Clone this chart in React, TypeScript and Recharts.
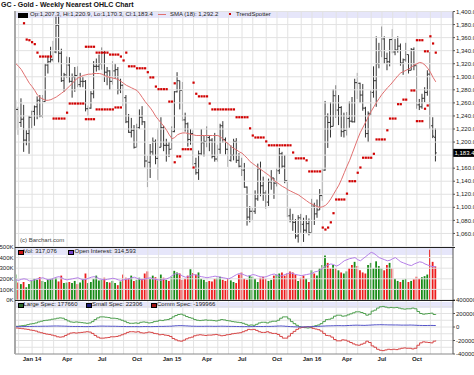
import React from "react";
import { ComposedChart, Bar, Line, XAxis, YAxis, ReferenceLine, Cell } from "recharts";

const _ = null;

// weekly bars, week ending Nov 29 2013 (index 0) .. Nov 25 2016 (index 156)
const open = [
  1244, 1250, 1230, 1235, 1203, 1213, 1238, 1247, 1254, 1264,
  1240, 1262, 1318, 1323, 1326, 1338, 1379, 1336, 1294, 1303,
  1318, 1293, 1300, 1302, 1288, 1293, 1293, 1251, 1252, 1274,
  1316, 1316, 1320, 1337, 1307, 1309, 1293, 1309, 1311, 1280,
  1287, 1268, 1231, 1215, 1218, 1192, 1222, 1238, 1231, 1171,
  1169, 1185, 1201, 1175, 1192, 1222, 1195, 1195, 1189, 1216,
  1277, 1294, 1279, 1234, 1228, 1204, 1213, 1167, 1153, 1182,
  1199, 1201, 1207, 1203, 1178, 1174, 1189, 1225, 1204, 1189,
  1172, 1180, 1201, 1172, 1163, 1157, 1131, 1085, 1094, 1094,
  1113, 1159, 1133, 1122, 1108, 1139, 1145, 1137, 1156, 1182,
  1163, 1141, 1087, 1080, 1077, 1056, 1084, 1074, 1065, 1075,
  1061, 1102, 1090, 1096, 1118, 1157, 1239, 1230, 1224, 1271,
  1249, 1253, 1216, 1218, 1236, 1232, 1231, 1291, 1290, 1272,
  1252, 1213, 1244, 1276, 1294, 1320, 1340, 1358, 1328, 1323,
  1357, 1338, 1341, 1347, 1321, 1326, 1334, 1310, 1342, 1317,
  1257, 1254, 1267, 1276, 1304, 1225, 1207.3,
];
const high = [
  1264, 1254, 1267, 1257, 1218, 1240, 1248, 1256, 1270, 1272,
  1272, 1320, 1332, 1346, 1355, 1392, 1392, 1343, 1306, 1331,
  1330, 1305, 1315, 1316, 1306, 1300, 1295, 1256, 1278, 1324,
  1328, 1334, 1345, 1340, 1315, 1310, 1324, 1320, 1315, 1297,
  1289, 1272, 1243, 1237, 1226, 1228, 1250, 1255, 1232, 1179,
  1197, 1207, 1204, 1221, 1238, 1225, 1205, 1200, 1224, 1278,
  1307, 1294, 1292, 1245, 1230, 1220, 1218, 1176, 1187, 1220,
  1210, 1224, 1210, 1206, 1214, 1196, 1228, 1232, 1207, 1200,
  1195, 1205, 1206, 1183, 1176, 1168, 1132, 1102, 1099, 1126,
  1167, 1170, 1147, 1126, 1144, 1157, 1145, 1160, 1191, 1185,
  1180, 1142, 1098, 1090, 1082, 1088, 1090, 1084, 1088, 1083,
  1113, 1107, 1112, 1128, 1160, 1263, 1244, 1261, 1281, 1287,
  1272, 1255, 1245, 1246, 1262, 1269, 1297, 1306, 1291, 1289,
  1254, 1247, 1279, 1316, 1362, 1352, 1377, 1362, 1337, 1358,
  1373, 1358, 1362, 1351, 1328, 1352, 1334, 1344, 1345, 1319,
  1266, 1274, 1284, 1310, 1338, 1238, 1220.9,
];
const low = [
  1221, 1211, 1223, 1185, 1195, 1182, 1221, 1225, 1235, 1238,
  1237, 1262, 1305, 1322, 1323, 1336, 1322, 1292, 1277, 1298,
  1291, 1268, 1277, 1284, 1284, 1284, 1247, 1240, 1251, 1267,
  1308, 1310, 1311, 1292, 1287, 1280, 1288, 1297, 1273, 1275,
  1255, 1229, 1214, 1207, 1190, 1192, 1220, 1226, 1161, 1131,
  1145, 1180, 1166, 1142, 1192, 1186, 1170, 1177, 1189, 1215,
  1276, 1250, 1232, 1216, 1193, 1196, 1164, 1150, 1142, 1180,
  1178, 1192, 1186, 1175, 1170, 1170, 1182, 1199, 1181, 1162,
  1170, 1172, 1168, 1161, 1148, 1130, 1072, 1077, 1080, 1090,
  1110, 1117, 1110, 1098, 1102, 1127, 1113, 1132, 1151, 1160,
  1137, 1085, 1077, 1064, 1052, 1046, 1061, 1047, 1061, 1057,
  1061, 1073, 1084, 1096, 1110, 1156, 1191, 1207, 1224, 1237,
  1226, 1208, 1207, 1210, 1222, 1230, 1230, 1266, 1260, 1248,
  1207, 1200, 1241, 1268, 1254, 1313, 1330, 1320, 1310, 1316,
  1336, 1333, 1337, 1317, 1303, 1323, 1305, 1310, 1310, 1251,
  1249, 1251, 1261, 1271, 1220, 1206, 1170.3,
];
const close = [
  1250, 1230, 1235, 1203, 1213, 1238, 1247, 1254, 1264, 1240,
  1262, 1318, 1323, 1326, 1338, 1379, 1336, 1294, 1303, 1318,
  1293, 1300, 1302, 1288, 1293, 1293, 1251, 1252, 1274, 1316,
  1316, 1320, 1337, 1307, 1309, 1293, 1309, 1311, 1280, 1287,
  1268, 1231, 1215, 1218, 1192, 1222, 1238, 1231, 1171, 1169,
  1185, 1201, 1175, 1192, 1222, 1195, 1195, 1189, 1216, 1277,
  1294, 1279, 1234, 1228, 1204, 1213, 1167, 1153, 1182, 1199,
  1201, 1207, 1203, 1178, 1174, 1189, 1225, 1204, 1189, 1172,
  1180, 1201, 1172, 1163, 1157, 1131, 1085, 1094, 1094, 1113,
  1159, 1133, 1122, 1108, 1139, 1145, 1137, 1156, 1182, 1163,
  1141, 1087, 1080, 1077, 1056, 1084, 1074, 1065, 1075, 1061,
  1102, 1090, 1096, 1118, 1157, 1239, 1230, 1224, 1271, 1249,
  1253, 1216, 1218, 1236, 1232, 1231, 1291, 1290, 1272, 1252,
  1213, 1244, 1276, 1294, 1320, 1340, 1358, 1328, 1323, 1357,
  1338, 1341, 1347, 1321, 1326, 1334, 1310, 1342, 1317, 1257,
  1254, 1267, 1276, 1304, 1225, 1209, 1183.4,
];
const sma18 = [
  1320, 1316, 1311, 1304, 1297, 1290, 1285, 1279, 1272, 1268,
  1266, 1264, 1264, 1265, 1267, 1269, 1272, 1275, 1278, 1282,
  1286, 1290, 1295, 1298, 1300, 1302, 1303, 1304, 1304, 1305,
  1305, 1305, 1304, 1302, 1300, 1299, 1298, 1297, 1296, 1293,
  1290, 1287, 1285, 1283, 1281, 1279, 1274, 1268, 1262, 1257,
  1252, 1246, 1239, 1234, 1229, 1224, 1218, 1211, 1205, 1207,
  1211, 1213, 1214, 1214, 1213, 1212, 1211, 1210, 1210, 1210,
  1210, 1210, 1210, 1210, 1210, 1210, 1208, 1204, 1200, 1197,
  1193, 1190, 1188, 1185, 1183, 1179, 1175, 1170, 1167, 1164,
  1161, 1158, 1155, 1152, 1149, 1145, 1141, 1138, 1135, 1132,
  1130, 1127, 1125, 1123, 1121, 1119, 1116, 1113, 1110, 1107,
  1105, 1103, 1101, 1100, 1101, 1103, 1107, 1113, 1120, 1127,
  1134, 1143, 1153, 1163, 1172, 1183, 1194, 1205, 1215, 1223,
  1231, 1239, 1247, 1254, 1261, 1267, 1273, 1278, 1283, 1287,
  1292, 1297, 1302, 1306, 1308, 1310, 1312, 1315, 1318, 1320,
  1322, 1321, 1318, 1313, 1307, 1299, 1292.2,
];
const trendAbove = [
  _, _, _, 1382, 1357, 1356, 1353, 1350, 1337, 1331,
  1331, 1331, 1331, 1331, _, _, _, _, _, _,
  _, _, _, _, _, _, 1346, 1346, 1346, 1346,
  1337, 1337, 1337, 1337, 1337, 1334, 1334, 1334, 1334, 1331,
  1325, 1337, 1316, 1316, 1316, 1313, 1313, 1313, 1313, 1307,
  1299, 1299, 1285, 1281, 1281, 1281, 1281, 1262, 1262, 1290,
  _, _, _, _, _, _, 1291, 1274, 1270, 1270,
  1270, 1270, 1259, 1250, 1250, 1250, 1250, 1250, 1250, 1250,
  1250, 1250, 1238, 1238, 1238, 1238, 1238, 1221, 1210, 1207,
  1207, 1207, 1207, 1201, 1195, 1195, 1195, 1195, 1195, 1195,
  1195, 1195, 1195, 1184, 1175, 1175, 1175, 1175, 1172, 1155,
  1155, 1155, 1155, 1155, _, _, _, _, _, _,
  _, _, _, _, _, _, _, _, _, _,
  _, _, _, _, _, _, _, _, _, _,
  _, _, _, _, _, _, _, _, _, 1356,
  1356, 1356, 1339, 1339, 1362, 1351, 1337,
];
const trendBelow = [
  _, _, _, _, _, _, _, _, _, _,
  _, _, _, _, 1236, 1236, 1236, 1236, 1236, 1245,
  1259, 1259, 1259, 1259, 1259, 1259, 1235, 1235, 1235, 1235,
  1250, 1250, 1250, 1250, 1250, 1250, 1250, 1253, 1253, 1253,
  _, _, _, _, _, _, _, _, _, _,
  _, _, _, _, _, _, _, _, _, 1169,
  1178, 1178, 1189, 1189, 1189, 1189, 1161, _, _, _,
  _, _, _, _, _, _, _, _, _, _,
  _, _, _, _, _, _, _, _, _, _,
  _, _, _, _, _, _, _, _, _, _,
  _, _, _, _, _, _, _, _, _, _,
  _, _, _, _, 1069, 1066, 1069, 1077, 1091, 1112,
  1112, 1112, 1112, 1121, 1140, 1140, 1140, 1153, 1161, 1176,
  1176, 1176, 1176, 1182, 1204, 1204, 1204, 1204, 1218, 1236,
  1236, 1236, 1258, 1258, 1265, 1265, _, 1279, 1279, 1232,
  1232, 1232, 1251, 1256, _, _, _,
];
// thousands of contracts
const volumeK = [
  240, 165, 150, 170, 120, 150, 185, 200, 190, 215,
  180, 170, 195, 200, 205, 210, 175, 230, 160, 165,
  170, 160, 180, 150, 165, 200, 250, 160, 170, 200,
  230, 185, 190, 210, 170, 165, 180, 160, 140, 175,
  240, 210, 205, 230, 180, 190, 210, 200, 250, 270,
  200, 230, 215, 185, 240, 210, 190, 180, 220, 275,
  260, 250, 190, 200, 230, 290, 255, 240, 260, 200,
  190, 170, 180, 175, 200, 210, 220, 190, 180, 200,
  185, 170, 160, 240, 260, 200, 190, 230, 220, 200,
  170, 210, 220, 200, 180, 190, 230, 240, 250, 260,
  230, 250, 270, 260, 240, 180, 210, 230, 200, 170,
  280, 250, 230, 300, 330, 420, 350, 300, 330, 300,
  280, 260, 250, 270, 300, 330, 360, 320, 280, 260,
  250, 330, 350, 300, 365, 320, 300, 280, 330, 350,
  300, 200, 180, 170, 190, 200, 170, 180, 195, 220,
  200, 215, 225, 240, 475, 360, 317.076,
];
const openInterestK = [
  190, 185, 195, 200, 195, 180, 185, 190, 200, 205,
  210, 200, 190, 195, 205, 215, 220, 210, 195, 190,
  195, 200, 205, 210, 200, 190, 195, 205, 215, 220,
  215, 200, 195, 190, 195, 200, 205, 200, 190, 185,
  190, 195, 200, 210, 215, 205, 195, 190, 200, 205,
  210, 200, 195, 190, 185, 195, 200, 210, 230, 245,
  250, 240, 225, 215, 220, 230, 240, 235, 225, 220,
  215, 210, 215, 220, 225, 220, 215, 210, 205, 200,
  210, 225, 240, 250, 245, 235, 225, 230, 240, 235,
  225, 220, 215, 220, 230, 240, 245, 235, 225, 230,
  240, 250, 255, 250, 240, 235, 230, 235, 240, 245,
  250, 265, 270, 285, 300, 320, 330, 340, 335, 320,
  330, 350, 370, 380, 390, 395, 400, 380, 370, 390,
  410, 430, 450, 440, 420, 400, 390, 380, 370, 375,
  390, 400, 380, 360, 350, 340, 330, 325, 340, 350,
  360, 355, 340, 330, 320, 315, 314.593,
];
const largeSpecK = [
  10, 15, 20, 25, 35, 45, 50, 60, 75, 85,
  95, 100, 105, 115, 120, 130, 135, 130, 110, 90,
  75, 70, 75, 70, 65, 60, 55, 60, 80, 110,
  135, 150, 150, 145, 140, 130, 130, 125, 115, 100,
  85, 65, 55, 55, 60, 55, 70, 75, 70, 60,
  65, 80, 85, 100, 95, 105, 110, 125, 150, 170,
  185, 190, 175, 155, 140, 130, 110, 100, 95, 100,
  105, 100, 100, 95, 90, 100, 110, 105, 95, 90,
  80, 75, 70, 65, 55, 40, 25, 30, 25, 40,
  60, 70, 70, 60, 75, 85, 85, 100, 130, 150,
  150, 120, 80, 50, 25, 5, -5, -10, -15, -10,
  10, 20, 30, 50, 80, 110, 115, 130, 160, 175,
  175, 160, 165, 180, 195, 210, 225, 225, 215, 200,
  175, 190, 235, 250, 280, 300, 305, 295, 285, 290,
  285, 290, 280, 270, 265, 270, 270, 280, 270, 230,
  200, 190, 195, 200, 205, 185, 177.66,
];
const smallSpecK = [
  5, 5, 6, 7, 8, 8, 9, 10, 10, 11,
  12, 12, 13, 14, 15, 15, 14, 13, 12, 10,
  9, 8, 8, 7, 7, 6, 6, 7, 8, 10,
  12, 13, 13, 12, 12, 11, 11, 10, 9, 8,
  7, 6, 6, 6, 6, 5, 6, 7, 7, 6,
  6, 7, 8, 9, 9, 10, 11, 12, 15, 18,
  20, 20, 18, 16, 14, 12, 11, 10, 10, 10,
  11, 11, 11, 10, 10, 11, 12, 11, 10, 9,
  9, 8, 7, 6, 5, 6, 5, 6, 7, 8,
  8, 7, 8, 9, 9, 10, 12, 14, 15, 13,
  10, 7, 5, 3, 2, 1, 1, 2, 3, 4,
  6, 8, 10, 12, 14, 16, 17, 18, 19, 20,
  20, 19, 20, 22, 24, 26, 27, 26, 25, 24,
  26, 28, 30, 32, 33, 34, 33, 32, 31, 31,
  30, 30, 29, 28, 28, 28, 29, 28, 26, 24,
  23, 22, 22, 23, 23, 22, 22.306,
];
const commSpecK = [
  -15, -20, -25, -30, -35, -45, -50, -60, -75, -85,
  -95, -105, -110, -120, -130, -145, -150, -145, -125, -105,
  -90, -85, -90, -85, -80, -75, -70, -75, -95, -125,
  -150, -165, -165, -160, -155, -145, -145, -140, -130, -115,
  -100, -80, -70, -70, -75, -70, -85, -90, -85, -75,
  -80, -95, -100, -115, -110, -120, -125, -140, -170, -190,
  -205, -210, -195, -175, -160, -150, -130, -120, -115, -120,
  -125, -120, -120, -115, -110, -120, -130, -125, -115, -110,
  -100, -95, -90, -85, -70, -55, -35, -40, -35, -50,
  -70, -80, -80, -70, -85, -95, -95, -110, -140, -165,
  -165, -135, -95, -65, -35, -15, -5, 0, 5, 0,
  -20, -30, -40, -60, -95, -125, -130, -150, -185, -205,
  -205, -190, -195, -210, -230, -250, -265, -270, -255, -240,
  -210, -230, -280, -300, -330, -345, -350, -340, -330, -335,
  -330, -335, -325, -315, -310, -315, -315, -325, -315, -270,
  -235, -220, -225, -230, -235, -210, -199.966,
];

const quarterTicks = [6, 19, 32, 45, 58, 71, 84, 97, 110, 123, 136, 149];
const quarterLabels = ["Jan 14", "Apr", "Jul", "Oct", "Jan 15", "Apr", "Jul", "Oct", "Jan 16", "Apr", "Jul", "Oct"];
const monthTicks = [1, 6, 10, 14, 19, 23, 27, 32, 36, 40, 45, 49, 53, 58, 62, 66, 71, 75, 79, 84, 88, 93, 97, 101, 106, 110, 114, 119, 123, 127, 132, 136, 140, 145, 149, 154, 158];
const priceGrid = [1060, 1080, 1100, 1120, 1140, 1160, 1180, 1200, 1220, 1240, 1260, 1280, 1300, 1320, 1340, 1360, 1380, 1400];
// 1,180.0 sits under the last-price box, so it carries no label
const priceLabels = [1060, 1080, 1100, 1120, 1140, 1160, 1200, 1220, 1240, 1260, 1280, 1300, 1320, 1340, 1360, 1380, 1400];
const volTicks = [0, 100000, 200000, 300000, 400000, 500000];
const volRightTicks = [200000, 300000, 400000, 500000, 600000, 700000];
const cotTicks = [-400000, -200000, 0, 200000, 400000];

const FONT = "'Liberation Sans', Arial, sans-serif";
const X_DOMAIN: [number, number] = [-0.35, 162.4];
const GRID = "#e2e2e2";

const priceRows = open.map((o, i) => ({
  i,
  range: [low[i], high[i]],
  o,
  h: high[i],
  l: low[i],
  c: close[i],
  sma: sma18[i],
  tsHi: trendAbove[i],
  tsLo: trendBelow[i],
}));
const volRows = open.map((o, i) => ({
  i,
  vol: volumeK[i] * 1000,
  oi: openInterestK[i] * 1000,
  up: close[i] >= o,
}));
const cotRows = open.map((_o, i) => ({
  i,
  large: largeSpecK[i] * 1000,
  small: smallSpecK[i] * 1000,
  comm: commSpecK[i] * 1000,
}));

const fmtPrice = (v: number) =>
  v.toLocaleString("en-US", { minimumFractionDigits: 1, maximumFractionDigits: 1 });

function OhlcBar(props: any) {
  const { x, y, width, height, payload } = props;
  if (x == null || payload == null) return null;
  const top = Math.min(y, y + height);
  const bot = Math.max(y, y + height);
  const span = payload.h - payload.l || 1;
  const at = (v: number) => top + ((payload.h - v) / span) * (bot - top);
  const cx = x + width / 2;
  return (
    <g stroke="#333" strokeWidth={1}>
      <line x1={cx} x2={cx} y1={top} y2={bot} />
      <line x1={cx - 1.4} x2={cx} y1={at(payload.o)} y2={at(payload.o)} />
      <line x1={cx} x2={cx + 1.4} y1={at(payload.c)} y2={at(payload.c)} />
    </g>
  );
}

const TrendDot = (props: any) => {
  const { cx, cy, value, index } = props;
  if (value == null || cy == null || Number.isNaN(cy)) return <g key={`t${index}`} />;
  return <rect key={`t${index}`} x={cx - 1.1} y={cy - 1.1} width={2.2} height={2.2} fill="#d00000" />;
};

const LastPrice = (props: any) => {
  const vb = props.viewBox;
  if (!vb) return null;
  const x = vb.x + vb.width;
  return (
    <g>
      <rect x={x} y={vb.y - 4} width={22} height={8} fill="#000" />
      <text x={x + 1.5} y={vb.y + 2.2} fontSize={6} fill="#fff" fontFamily={FONT}>
        {fmtPrice(close[close.length - 1])}
      </text>
    </g>
  );
};

const tickStyle = { fontSize: 6, fill: "#222", fontFamily: FONT };

function vGrid(axisId: string) {
  return monthTicks.map((m) => (
    <ReferenceLine key={`m${m}`} x={m} yAxisId={axisId} stroke={GRID} strokeWidth={1} ifOverflow="hidden" />
  ));
}

function PriceChart() {
  return (
    <ComposedChart width={474} height={247} data={priceRows} margin={{ top: 11.5, right: 0, bottom: 0.5, left: 15 }}>
      <XAxis dataKey="i" type="number" domain={X_DOMAIN} hide allowDataOverflow />
      <YAxis
        yAxisId="p"
        orientation="right"
        domain={[1040, 1400]}
        ticks={priceLabels}
        width={21}
        allowDataOverflow
        tick={tickStyle}
        tickFormatter={fmtPrice}
        tickSize={2}
        tickMargin={1}
        axisLine={{ stroke: "#555" }}
        tickLine={{ stroke: "#555" }}
        interval={0}
      />
      {vGrid("p")}
      {priceGrid.map((t) => (
        <ReferenceLine key={`h${t}`} y={t} yAxisId="p" stroke={GRID} strokeWidth={1} />
      ))}
      <Bar yAxisId="p" dataKey="range" shape={OhlcBar} barSize={2} isAnimationActive={false} />
      <Line yAxisId="p" dataKey="sma" stroke="#e07070" strokeWidth={1} dot={false} isAnimationActive={false} />
      <Line yAxisId="p" dataKey="tsHi" stroke="none" dot={TrendDot} activeDot={false} isAnimationActive={false} />
      <Line yAxisId="p" dataKey="tsLo" stroke="none" dot={TrendDot} activeDot={false} isAnimationActive={false} />
      <ReferenceLine yAxisId="p" y={close[close.length - 1]} stroke="none" label={<LastPrice />} />
    </ComposedChart>
  );
}

function VolumeChart() {
  const k = (v: number) => `${v / 1000}K`;
  return (
    <ComposedChart width={474} height={53} data={volRows} margin={{ top: 0, right: 0, bottom: 0, left: 0 }}>
      <XAxis dataKey="i" type="number" domain={X_DOMAIN} hide allowDataOverflow />
      <YAxis
        yAxisId="v"
        domain={[0, 500000]}
        ticks={volTicks}
        width={15}
        allowDataOverflow
        tick={tickStyle}
        tickFormatter={k}
        tickSize={1}
        tickMargin={0.5}
        axisLine={false}
        tickLine={{ stroke: "#555" }}
        interval={0}
      />
      <YAxis
        yAxisId="vr"
        orientation="right"
        domain={[200000, 700000]}
        ticks={volRightTicks}
        width={21}
        tick={tickStyle}
        tickFormatter={k}
        tickSize={2}
        tickMargin={1}
        axisLine={{ stroke: "#555" }}
        tickLine={{ stroke: "#555" }}
        interval={0}
      />
      {vGrid("v")}
      {volTicks.map((t) => (
        <ReferenceLine key={`h${t}`} y={t} yAxisId="v" stroke={GRID} strokeWidth={1} />
      ))}
      <Bar yAxisId="v" dataKey="vol" barSize={1.8} isAnimationActive={false}>
        {volRows.map((r) => (
          <Cell key={r.i} fill={r.up ? "#178a17" : "#ec1c1c"} />
        ))}
      </Bar>
      <Line yAxisId="v" dataKey="oi" stroke="#b57fe8" strokeWidth={1} dot={false} isAnimationActive={false} />
    </ComposedChart>
  );
}

function CotChart() {
  return (
    <ComposedChart width={474} height={75} data={cotRows} margin={{ top: 0, right: 0, bottom: 0, left: 15 }}>
      <XAxis
        dataKey="i"
        type="number"
        domain={X_DOMAIN}
        allowDataOverflow
        ticks={quarterTicks}
        interval={0}
        height={21}
        tickFormatter={(v: number) => quarterLabels[quarterTicks.indexOf(v)] ?? ""}
        tick={{ fontSize: 6, fill: "#222", fontFamily: FONT, fontWeight: "bold" }}
        tickLine={false}
        tickSize={3}
        tickMargin={0}
        axisLine={{ stroke: "#888" }}
      />
      <YAxis
        yAxisId="c"
        orientation="right"
        domain={[-400000, 400000]}
        ticks={cotTicks}
        width={21}
        tick={tickStyle}
        tickSize={2}
        tickMargin={1}
        axisLine={{ stroke: "#555" }}
        tickLine={{ stroke: "#555" }}
        interval={0}
      />
      {vGrid("c")}
      {[-300000, -200000, -100000, 0, 100000, 200000, 300000].map((t) => (
        <ReferenceLine key={`h${t}`} y={t} yAxisId="c" stroke={GRID} strokeWidth={1} />
      ))}
      <Line yAxisId="c" type="stepAfter" dataKey="large" stroke="#4f9f4f" strokeWidth={1} dot={false} isAnimationActive={false} />
      <Line yAxisId="c" type="stepAfter" dataKey="comm" stroke="#d64545" strokeWidth={1} dot={false} isAnimationActive={false} />
      <Line yAxisId="c" type="stepAfter" dataKey="small" stroke="#5555c8" strokeWidth={1} dot={false} isAnimationActive={false} />
    </ComposedChart>
  );
}

const txt: React.CSSProperties = {
  position: "absolute",
  fontFamily: FONT,
  fontSize: 6,
  color: "#222",
  whiteSpace: "nowrap",
  lineHeight: "7px",
};

function Swatch({ x, y, color, w = 4, h = 3 }: { x: number; y: number; color: string; w?: number; h?: number }) {
  return (
    <div style={{ position: "absolute", left: x, top: y, width: w, height: h, background: color, border: "0.5px solid #000" }} />
  );
}

export default function App() {
  return (
    <div style={{ position: "absolute", left: 0, top: 0, width: 474, height: 375, background: "#fff", overflow: "hidden" }}>
      <style>{`.recharts-surface{overflow:visible}`}</style>
      {/* legend bands */}
      <div style={{ position: "absolute", left: 15, top: 11.5, width: 438, height: 6, background: "#e6e6fa" }} />
      <div style={{ position: "absolute", left: 15, top: 248, width: 438, height: 6.5, background: "#e6e6fa" }} />
      <div style={{ position: "absolute", left: 15, top: 301.5, width: 438, height: 6.5, background: "#e6e6fa" }} />

      <div style={{ position: "absolute", left: 0, top: 0 }}>
        <PriceChart />
      </div>
      <div style={{ position: "absolute", left: 0, top: 247 }}>
        <VolumeChart />
      </div>
      <div style={{ position: "absolute", left: 0, top: 300 }}>
        <CotChart />
      </div>

      {/* frame lines */}
      <div style={{ position: "absolute", left: 13.5, top: 11, width: 2, height: 343, background: "#a8a8a8" }} />
      <div style={{ position: "absolute", left: 15, top: 246.5, width: 440, height: 1.2, background: "#222" }} />
      <div style={{ position: "absolute", left: 15, top: 300, width: 440, height: 1.2, background: "#222" }} />

      {/* title and legends */}
      <div style={{ ...txt, left: 1, top: 1, fontSize: 7, fontWeight: "bold", color: "#111" }}>
        GC - Gold - Weekly Nearest OHLC Chart
      </div>
      <Swatch x={18} y={13} color="#000" w={8} h={3} />
      <div style={{ ...txt, left: 30, top: 11.2 }}>Op:1,207.3, Hi:1,220.9, Lo:1,170.3, Cl:1,183.4</div>
      <div style={{ position: "absolute", left: 158, top: 14.2, width: 8, height: 1, background: "#e07070" }} />
      <div style={{ ...txt, left: 170, top: 11.2 }}>SMA (18): 1,292.2</div>
      <div style={{ position: "absolute", left: 229, top: 13.4, width: 2, height: 2, background: "#d00000" }} />
      <div style={{ ...txt, left: 236, top: 11.2 }}>TrendSpotter</div>

      <div style={{ ...txt, left: 20, top: 237, color: "#444" }}>(c) Barchart.com</div>

      <Swatch x={17.5} y={249.5} color="#cc1111" />
      <div style={{ ...txt, left: 23.5, top: 247.8 }}>Vol: 317,076</div>
      <Swatch x={68} y={249.5} color="#7744cc" />
      <div style={{ ...txt, left: 74.5, top: 247.8 }}>Open Interest: 314,593</div>

      <Swatch x={17.5} y={303} color="#2e6b2e" />
      <div style={{ ...txt, left: 23.5, top: 301.3 }}>Large Spec: 177660</div>
      <Swatch x={86} y={303} color="#1a1a7a" />
      <div style={{ ...txt, left: 92, top: 301.3 }}>Small Spec: 22306</div>
      <Swatch x={150.5} y={303} color="#a01414" />
      <div style={{ ...txt, left: 157, top: 301.3 }}>Comm Spec: -199966</div>
    </div>
  );
}
